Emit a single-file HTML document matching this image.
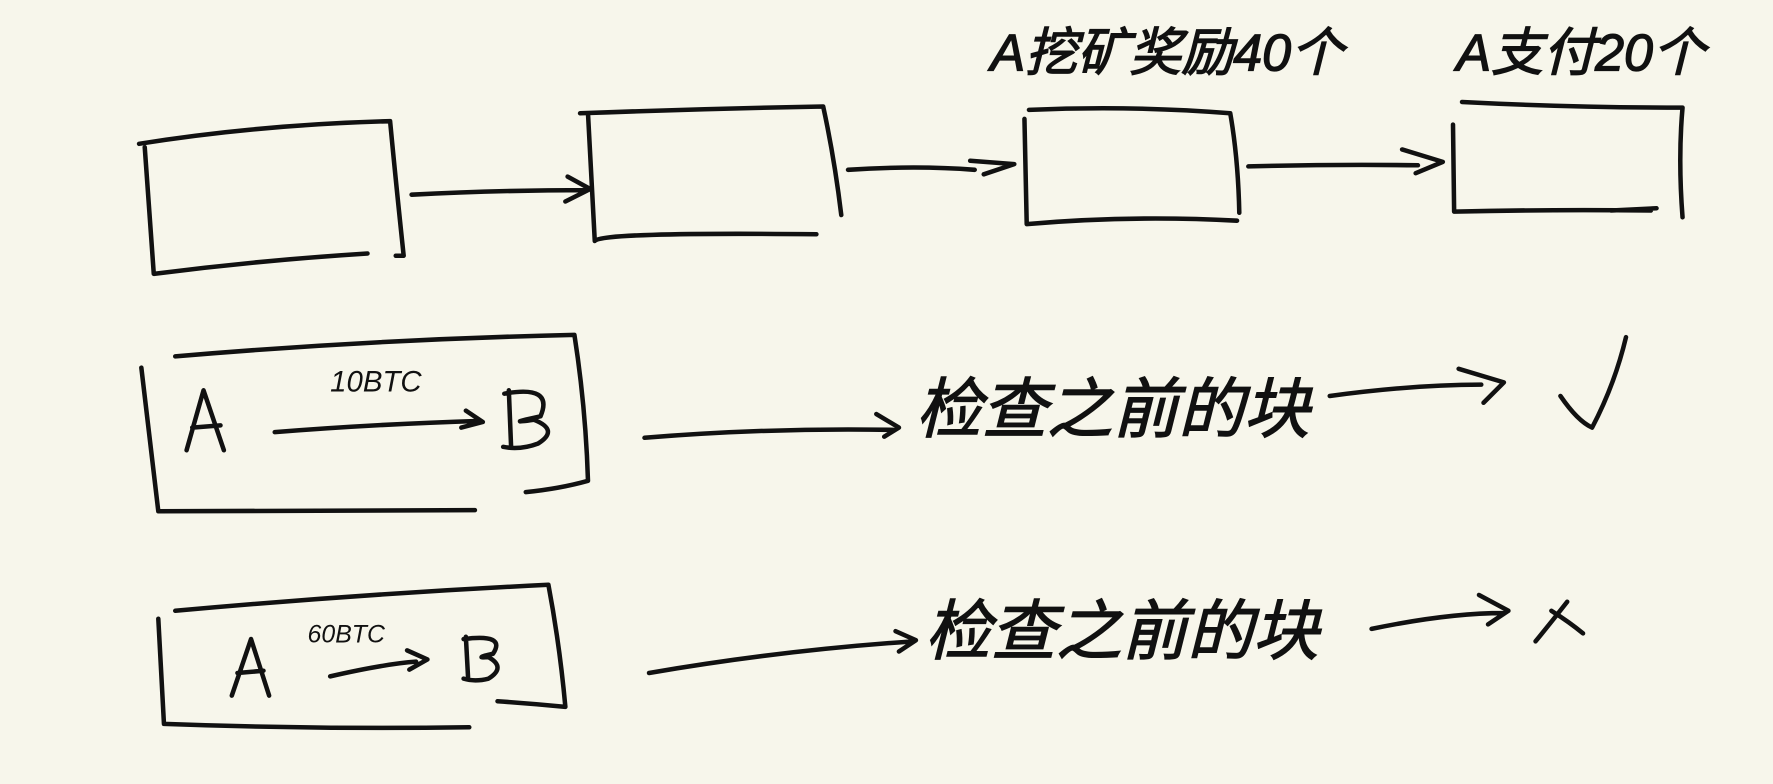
<!DOCTYPE html>
<html><head><meta charset="utf-8"><style>
html,body{margin:0;padding:0;background:#f7f6eb;}
svg{display:block}
text{font-family:"Liberation Sans","Noto Sans CJK SC",sans-serif;fill:#111;}
</style></head><body>
<svg width="1773" height="784" viewBox="0 0 1568 693" xmlns="http://www.w3.org/2000/svg">
<rect width="1568" height="693" fill="#f7f6eb"/>
<g fill="none" stroke="#111" stroke-width="4" stroke-linecap="round" stroke-linejoin="round">
<path d="M123 127 Q230 110 345 107 Q350 160 357 226 L350 226"/>
<path d="M128 130 L136 242 Q230 230 325 224"/>
<path d="M513 100 Q620 96 728 94 Q738 140 744 190"/>
<path d="M520 100 L526 213 Q530 205 722 207"/>
<path d="M910 97 Q1000 93 1088 100 Q1095 140 1096 188"/>
<path d="M906 105 L908 198 Q1000 190 1094 195"/>
<path d="M1293 90 Q1390 95 1488 95 Q1484 140 1488 192"/>
<path d="M1285 110 L1286 187 Q1370 185 1460 186 M1425 186 L1465 184"/>
<path d="M364 172 Q440 168 520 168 M502 156 L522 167 L500 178"/>
<path d="M750 150 Q810 146 862 150 M858 142 L897 145 L870 154"/>
<path d="M1104 147 Q1180 145 1254 146 M1240 132 L1276 143 L1252 153"/>
<path d="M155 315 Q330 300 508 296 Q518 360 520 425 Q495 432 465 435"/>
<path d="M125 325 L140 452 Q280 452 420 451"/>
<path d="M165 398 L180 345 L198 398 M170 378 L195 376"/>
<path d="M243 382 Q330 375 425 372 M412 363 L427 373 L408 378"/>
<path d="M450 345 L452 395 M446 348 Q490 340 478 368 Q445 375 472 371 Q495 380 476 392 Q460 398 445 395"/>
<path d="M570 387 Q680 378 790 380 M775 366 L795 378 L782 386"/>
<path d="M1176 350 Q1250 340 1310 340 M1290 326 L1330 338 L1312 356"/>
<path d="M1380 350 Q1395 372 1408 378 Q1428 340 1438 298"/>
<path d="M155 540 Q320 525 485 517 Q495 570 500 625 Q470 622 440 620"/>
<path d="M140 547 L145 640 Q280 645 415 643"/>
<path d="M205 615 L222 565 L238 615 M210 595 L233 593"/>
<path d="M292 598 Q340 587 368 585 M360 575 L378 583 L362 592"/>
<path d="M412 563 L414 600 M410 565 Q448 560 436 578 Q418 582 432 581 Q448 590 432 600 Q420 603 410 600"/>
<path d="M574 595 Q690 575 808 567 M792 558 L810 566 L795 576"/>
<path d="M1213 556 Q1280 542 1330 542 M1308 526 L1334 540 L1316 552"/>
<path d="M1358 567 Q1372 550 1386 532 M1372 540 Q1388 550 1400 560"/>
</g>
<g font-style="italic" stroke="#111" stroke-width="1.2">
<text x="876" y="62" font-size="46">A挖矿奖励40个</text>
<text x="1288" y="62" font-size="46">A支付20个</text>
<text x="810" y="382" font-size="58">检查之前的块</text>
<text x="818" y="578" font-size="58">检查之前的块</text>
</g>
<text x="292" y="346" font-size="26" font-style="italic">10BTC</text>
<text x="272" y="568" font-size="22" font-style="italic">60BTC</text>
</svg>
</body></html>
